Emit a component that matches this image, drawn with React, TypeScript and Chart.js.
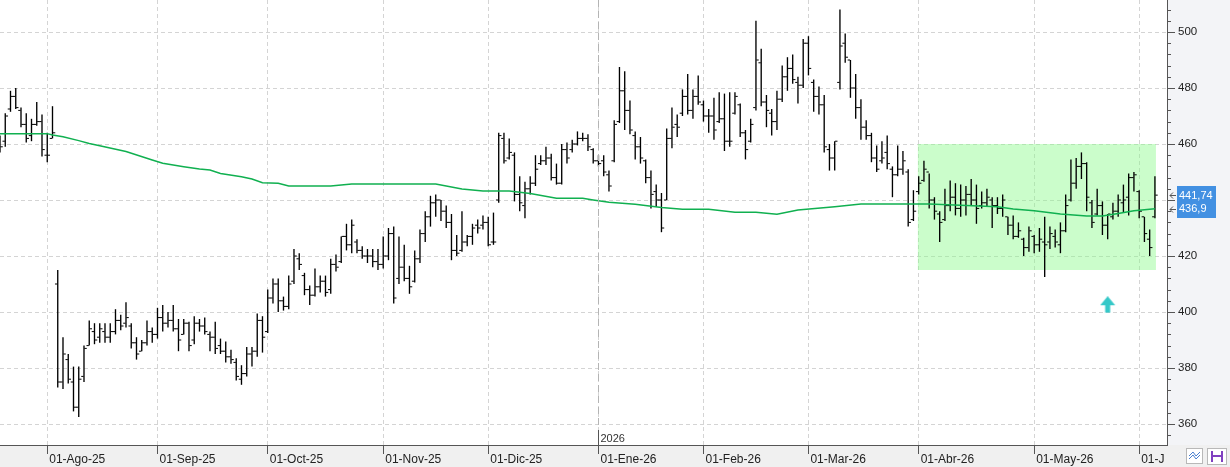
import { useEffect, useRef } from "react";
import { Chart, registerables } from "chart.js";

Chart.register(...registerables);

const FONT = '"Liberation Sans", Arial, sans-serif';

const highs: number[] = [
  463, 471, 479, 480, 473, 471, 469, 475, 470.5, 464,
  473.5, 415, 391, 385, 380.5, 380.5, 388, 397, 396, 396,
  396, 396, 401, 399, 403.5, 396, 391, 390, 397, 394.5,
  401.5, 402.5, 400, 402.5, 397.5, 397.5, 396.5, 398.5, 397.5, 398,
  393, 396.5, 390.5, 389.5, 386.5, 383.5, 381, 387.5, 387.5, 399.5,
  398.5, 408, 412, 412, 405.5, 413, 422.5, 421, 414, 409.5,
  415.5, 413, 413, 419, 420.5, 427, 431.5, 433, 426, 423.5,
  422.5, 422.5, 422.5, 427, 430, 430.5, 427, 424, 416.5, 422,
  429.5, 436, 441.5, 442, 440, 438, 435, 427.5, 436, 427.5,
  431.5, 433, 434.5, 434, 435.5, 464, 464, 462, 457, 448.5,
  446.5, 448.5, 456, 456, 459, 456.5, 453, 460, 460.5, 461.5,
  464.5, 464, 463.5, 458.5, 456, 456, 450.5, 468.5, 487.5, 486,
  475.5, 464.5, 462.5, 454.5, 450.5, 445.5, 442.5, 465.5, 473, 470.5,
  479.5, 485, 479.5, 484.5, 475.5, 472.5, 476.5, 478.5, 478, 478.5,
  478.5, 474.5, 465, 469, 504, 494, 477.5, 472.5, 479, 488,
  491, 492, 484, 497.5, 498.5, 483, 480.5, 477.5, 460, 461,
  508, 499.5, 490, 485, 476, 468.5, 464, 459.5, 461, 463,
  452, 459.5, 457.5, 451, 443.5, 448.5, 454, 449.5, 441, 436,
  444, 447, 446, 445.5, 445, 447.5, 445.5, 443, 444, 441,
  441, 442, 434, 434.5, 432, 426.5, 430.5, 427.5, 430, 434,
  430.5, 429.5, 432, 442, 454.5, 455, 457, 453.5, 440, 444,
  439.5, 435, 439, 442, 445.5, 449.5, 450, 443.5, 434, 429.5,
  448.5,
];

const lows: number[] = [
  457, 459, 471.5, 472.5, 466, 460.5, 461, 466.5, 455.5, 453.5,
  462, 373, 372.5, 374.5, 364.5, 362.5, 375, 388, 388.5, 389,
  389, 389, 392, 393.5, 394.5, 387, 383, 386, 388, 389,
  390.5, 393, 394.5, 393, 386, 392, 386, 388.5, 393, 392,
  386, 385, 385, 382, 381.5, 375.5, 374, 377, 380.5, 384,
  385.5, 392.5, 403, 400, 400.5, 401, 410, 415, 406, 402.5,
  405.5, 407, 405.5, 406.5, 414.5, 417.5, 422, 421, 421, 419,
  417.5, 416, 415, 415.5, 418.5, 403, 410, 411, 406.5, 410.5,
  417.5, 425, 430.5, 434, 432.5, 430, 418.5, 420, 421.5, 423.5,
  424, 428, 429.5, 423.5, 424, 439, 453, 454.5, 439.5, 436,
  433.5, 442, 445, 452.5, 452.5, 447, 445.5, 445.5, 453, 457,
  459.5, 461, 457.5, 453, 452, 448.5, 443, 453.5, 467.5, 465,
  463.5, 454.5, 453, 446, 437, 437.5, 428.5, 440, 458.5, 462.5,
  470, 470.5, 469, 474, 468, 464, 461.5, 467.5, 457.5, 459,
  470.5, 462.5, 454.5, 460.5, 472, 473.5, 466, 463, 465, 475,
  479, 481.5, 474.5, 480, 484.5, 471.5, 470.5, 457, 450.5, 450.5,
  479.5, 489, 476.5, 469, 461.5, 461.5, 453.5, 450, 453, 451,
  441, 448.5, 449, 430.5, 432.5, 442, 446.5, 437, 433, 425,
  432.5, 436, 434.5, 434, 434.5, 438, 431.5, 437, 437.5, 430,
  435, 434, 427.5, 426, 426.5, 420, 421.5, 421, 421.5, 412.5,
  422.5, 423, 421, 428.5, 439.5, 444, 447.5, 436, 430, 434.5,
  427.5, 426, 433, 434, 435.5, 434.5, 443, 433.5, 425, 420,
  433.5,
];

const opens: number[] = [
  457.5, 461, 472.5, 477, 472, 467, 463, 467, 468, 456,
  462, 410, 375, 383, 375, 366, 377, 388, 393, 391,
  393, 391, 393, 397, 396, 395, 389, 386, 389, 393,
  392, 398, 396, 397, 394, 392, 396, 390, 396, 395,
  392, 391, 388, 386, 384, 382, 376, 378, 385, 386,
  397, 393, 405, 410, 404, 402, 411, 419, 413, 408,
  406, 409, 411, 408, 417, 418, 427, 424, 425, 422,
  420, 420, 418, 417, 420, 428, 412, 416, 412, 411,
  419, 428, 434, 439, 440, 436, 432, 422, 422, 425,
  427, 431, 431, 432, 425, 440, 462, 455, 456, 442,
  438, 444, 446, 453, 454, 455, 448, 446, 458, 458,
  460, 462, 462, 458, 454, 454, 449, 454, 468, 479,
  472, 463, 459, 454, 448, 443, 440, 440, 462, 467,
  471, 477, 472, 477, 474, 470, 470, 468, 469, 461,
  471, 474, 464, 461, 473, 489, 475, 471, 468, 476,
  484, 487, 482, 481, 496, 482, 477, 474, 458, 455,
  482, 496, 490, 480, 473, 466, 463, 455, 454, 457,
  451, 449, 451, 450, 433, 443, 447, 450, 440, 435,
  433, 438, 441, 437, 440, 442, 440, 438, 439, 440,
  438, 437, 434, 431, 427, 426, 423, 427, 424, 425,
  425, 427, 424, 429, 440, 446, 452, 453, 439, 435,
  438, 431, 434, 436, 439, 441, 448, 443, 434, 426,
  434,
];

const closes: number[] = [
  459, 470, 477, 473, 467, 462, 467, 468, 458, 456,
  464, 375, 385, 376, 366, 376, 387, 394, 390, 394,
  391, 393, 397, 395, 398, 389, 385, 389, 393, 392,
  398, 396, 397, 394, 390, 396, 388, 396, 395, 393,
  391, 387, 386, 384, 383, 377, 378, 385, 386, 397,
  391, 405, 410, 404, 402, 410, 420, 417, 408, 406,
  409, 411, 407, 417, 416, 427, 424, 431, 422, 420,
  420, 418, 417, 420, 428, 405, 416, 412, 409, 419,
  428, 434, 439, 440, 436, 432, 422, 421, 425, 427,
  430, 430, 432, 424, 425, 463, 454, 457, 442, 439,
  444, 446, 451, 454, 455, 448, 446, 458, 455, 460,
  462, 462, 459, 454, 453, 450, 445, 467, 479, 472,
  465, 459, 455, 448, 442, 440, 430, 462, 466, 466,
  477, 472, 477, 475, 470, 470, 465, 469, 461, 461,
  477, 464, 458, 467, 490, 475, 472, 468, 476, 484,
  487, 483, 481, 496, 487, 477, 474, 459, 455, 461,
  495, 491, 480, 473, 466, 463, 455, 451, 455, 453,
  449, 451, 454, 432, 436, 446, 451, 440, 436, 432,
  438, 441, 437, 440, 442, 440, 437, 439, 441, 438,
  437, 440, 431, 427, 429, 423, 429, 424, 426, 424,
  428, 425, 429, 438, 446, 452, 453, 441, 432, 438,
  431, 435, 436, 440, 440, 448, 449, 436, 428, 423,
  441.74,
];

// 200-session moving average, read at these bar indices
const maIdx: number[] = [
  0, 9, 10, 12, 15, 17, 19, 24, 29, 31, 35, 38, 40, 42, 46, 48, 50, 53, 55, 63,
  67, 83, 88, 92, 97, 101, 106, 111, 113, 116, 121, 126, 130, 135, 140, 144, 148, 152, 159, 164,
  177, 190, 193, 197, 202, 207, 210, 213, 216, 220,
];
const maVal: number[] = [
  463.7, 463.7, 463.2, 462.6, 461.2, 460.2, 459.4, 457.3, 454.3, 453.1, 451.9, 451.1, 450.7, 449.5, 448.3, 447.5, 446.2, 446, 445, 445,
  445.7, 445.7, 443.9, 443.2, 443.2, 442.3, 440.6, 440.6, 440, 439.2, 438.5, 437.3, 436.7, 436.7, 435.6, 435.6, 434.9, 436.4, 437.6, 438.6,
  438.6, 437.6, 436.8, 436.2, 435, 434.3, 434.3, 435.2, 436.2, 436.9,
];

const monthTickIdx: number[] = [9, 30, 51, 73, 93, 114, 134, 154, 175, 197, 217];
const monthLabels: string[] = [
  "01-Ago-25", "01-Sep-25", "01-Oct-25", "01-Nov-25", "01-Dic-25",
  "01-Ene-26", "01-Feb-26", "01-Mar-26", "01-Abr-26", "01-May-26", "01-J",
];
const yearIdx = 114;
const yearLabel = "2026";

const yTicks: number[] = [360, 380, 400, 420, 440, 460, 480, 500];

const zoneStart = 174.8;
const zoneEnd = 220.2;
const zoneLow = 415;
const zoneHigh = 460;

const signalIdx = 211;
const signalPrice = 402.6;

const lastClose = 441.74;
const lastCloseLabel = "441,74";
const maLast = 436.9;
const maLastLabel = "436,9";

function makeArrowImage(): HTMLCanvasElement {
  const c = document.createElement("canvas");
  c.width = 16;
  c.height = 17;
  const g = c.getContext("2d")!;
  g.fillStyle = "#35c8c8";
  g.beginPath();
  g.moveTo(8, 0);
  g.lineTo(15.5, 9);
  g.lineTo(10.5, 9);
  g.lineTo(10.5, 16.5);
  g.lineTo(5.5, 16.5);
  g.lineTo(5.5, 9);
  g.lineTo(0.5, 9);
  g.closePath();
  g.fill();
  return c;
}

const decor = {
  id: "decor",
  beforeDraw(chart: any) {
    const { ctx, chartArea: a, width, height } = chart;
    ctx.save();
    ctx.fillStyle = "#ffffff";
    ctx.fillRect(0, 0, width, height);
    ctx.fillStyle = "#f0f0f0";
    ctx.fillRect(0, a.bottom, width, height - a.bottom);
    ctx.fillStyle = "#f3f4f7";
    ctx.fillRect(a.right, 0, width - a.right, a.bottom);
    ctx.restore();
  },
  afterDraw(chart: any) {
    const { ctx, chartArea: a, scales } = chart;
    const xs = scales.x;
    const ys = scales.y;
    ctx.save();
    // minor ticks on price axis
    ctx.strokeStyle = "#555";
    ctx.lineWidth = 1;
    ctx.beginPath();
    for (let v = Math.ceil(ys.min / 4) * 4; v <= ys.max; v += 4) {
      if (v % 20 === 0) continue;
      const py = Math.round(ys.getPixelForValue(v)) + 0.5;
      ctx.moveTo(a.right, py);
      ctx.lineTo(a.right + 4, py);
    }
    ctx.stroke();

    // year separator
    const yx = Math.round(xs.getPixelForValue(yearIdx)) + 0.5;
    ctx.strokeStyle = "#b4b4b4";
    ctx.setLineDash([7, 4]);
    ctx.beginPath();
    ctx.moveTo(yx, a.top);
    ctx.lineTo(yx, a.bottom - 16);
    ctx.stroke();
    ctx.setLineDash([]);
    ctx.strokeStyle = "#555";
    ctx.beginPath();
    ctx.moveTo(yx, a.bottom - 15);
    ctx.lineTo(yx, a.bottom);
    ctx.stroke();
    ctx.fillStyle = "#333";
    ctx.font = "11px " + FONT;
    ctx.textBaseline = "alphabetic";
    ctx.textAlign = "left";
    ctx.fillText(yearLabel, yx + 2, a.bottom - 3);

    // last-value box
    const p1 = ys.getPixelForValue(lastClose);
    const p2 = ys.getPixelForValue(maLast);
    const bx = a.right + 10;
    const top = Math.round(p1 - 9);
    const bot = Math.round(p2 + 9);
    ctx.fillStyle = "#4290e2";
    ctx.fillRect(bx, top, 39, bot - top);
    ctx.fillStyle = "#ffffff";
    ctx.font = "11px " + FONT;
    ctx.textBaseline = "middle";
    ctx.fillText(lastCloseLabel, bx + 2, p1 + 1);
    ctx.fillText(maLastLabel, bx + 2, p2 + 0.5);
    // pointers
    ctx.strokeStyle = "#555";
    [p1, p2].forEach((p) => {
      const py = Math.round(p) + 0.5;
      ctx.beginPath();
      ctx.moveTo(a.right + 9, py);
      ctx.lineTo(a.right + 3, py);
      ctx.moveTo(a.right + 6, py - 3);
      ctx.lineTo(a.right + 3, py);
      ctx.lineTo(a.right + 6, py + 3);
      ctx.stroke();
    });

    // small toolbar buttons
    ctx.fillStyle = "#ffffff";
    ctx.strokeStyle = "#b8b8b8";
    ctx.fillRect(1186, 448, 16, 15);
    ctx.strokeRect(1186.5, 448.5, 16, 15);
    ctx.fillRect(1207, 448, 19, 16);
    ctx.strokeRect(1207.5, 448.5, 19, 16);
    ctx.strokeStyle = "#4a7fd0";
    ctx.beginPath();
    ctx.moveTo(1189, 456);
    ctx.lineTo(1193, 452);
    ctx.lineTo(1196, 456);
    ctx.lineTo(1200, 452);
    ctx.moveTo(1189, 459);
    ctx.lineTo(1193, 455);
    ctx.lineTo(1196, 459);
    ctx.lineTo(1200, 455);
    ctx.stroke();
    ctx.fillStyle = "#8040c0";
    ctx.fillRect(1211, 451, 12, 11);
    ctx.fillStyle = "#ffffff";
    ctx.fillRect(1213, 451, 8, 4);
    ctx.fillRect(1213, 457, 8, 5);
    ctx.restore();
  },
};

export default function App() {
  const ref = useRef<HTMLCanvasElement>(null);
  useEffect(() => {
    const canvas = ref.current!;
    const idx = highs.map((_, i) => i);
    const arrowImg = makeArrowImage();
    const chart = new Chart(canvas, {
      type: "bar",
      data: {
        datasets: [
          {
            type: "line",
            label: "zone",
            data: [
              { x: zoneStart, y: zoneHigh },
              { x: zoneEnd, y: zoneHigh },
            ],
            fill: { value: zoneLow },
            backgroundColor: "rgba(140,250,140,0.45)",
            borderWidth: 0,
            pointRadius: 0,
            order: 10,
          } as any,
          {
            type: "bar",
            label: "range",
            data: idx.map((i) => ({ x: i, y: [lows[i], highs[i]] })),
            backgroundColor: "#000",
            barThickness: 1.35,
            borderWidth: 0,
            inflateAmount: 0,
            grouped: false,
            order: 3,
          } as any,
          {
            type: "line",
            label: "open",
            data: idx.map((i) => ({ x: i - 0.3, y: opens[i] })),
            showLine: false,
            pointStyle: "line",
            pointRadius: 1.2,
            pointBorderColor: "#000",
            pointBorderWidth: 1,
            order: 2,
          } as any,
          {
            type: "line",
            label: "close",
            data: idx.map((i) => ({ x: i + 0.3, y: closes[i] })),
            showLine: false,
            pointStyle: "line",
            pointRadius: 1.2,
            pointBorderColor: "#000",
            pointBorderWidth: 1,
            order: 2,
          } as any,
          {
            type: "line",
            label: "MA",
            data: maIdx.map((x, k) => ({ x, y: maVal[k] })),
            borderColor: "#10b050",
            borderWidth: 1.5,
            pointRadius: 0,
            tension: 0,
            order: 1,
          } as any,
          {
            type: "line",
            label: "signal",
            data: [{ x: signalIdx, y: signalPrice }],
            showLine: false,
            pointStyle: arrowImg,
            pointRadius: 8,
            order: 0,
          } as any,
        ],
      },
      options: {
        animation: false,
        responsive: false,
        events: [],
        layout: { padding: 0, autoPadding: false },
        plugins: { legend: { display: false }, tooltip: { enabled: false } },
        scales: {
          x: {
            type: "linear",
            offset: false,
            min: 0,
            max: 222.3,
            afterBuildTicks: (s: any) => {
              s.ticks = monthTickIdx.map((v) => ({ value: v }));
            },
            afterFit: (s: any) => {
              s.height = 22;
              s.paddingLeft = 0;
              s.paddingRight = 0;
            },
            ticks: {
              autoSkip: false,
              maxRotation: 0,
              minRotation: 0,
              align: "start",
              labelOffset: 2,
              padding: -2,
              color: "#222",
              font: { family: FONT, size: 12 },
              callback: (v: any) => {
                const k = monthTickIdx.indexOf(v);
                return k >= 0 ? monthLabels[k] : "";
              },
            },
            grid: { offset: false, color: "#d4d4d4", lineWidth: 1, tickLength: 9, tickColor: "#555", tickBorderDash: [] },
            border: { color: "#555", width: 1, dash: [4, 3] },
          },
          y: {
            position: "right",
            min: 352.5,
            max: 511.43,
            afterBuildTicks: (s: any) => {
              s.ticks = yTicks.map((v) => ({ value: v }));
            },
            afterFit: (s: any) => {
              s.width = 63;
              s.paddingTop = 0;
              s.paddingBottom = 0;
            },
            ticks: {
              padding: 3,
              color: "#222",
              font: { family: FONT, size: 11.5 },
              callback: (v: any) => String(v),
            },
            grid: { color: "#d4d4d4", lineWidth: 1, tickLength: 8, tickColor: "#555", tickBorderDash: [] },
            border: { color: "#555", width: 1, dash: [4, 3] },
          },
        } as any,
      },
      plugins: [decor],
    });
    return () => chart.destroy();
  }, []);
  return (
    <div style={{ position: "absolute", left: 0, top: 0, width: 1230, height: 467 }}>
      <canvas ref={ref} width={1230} height={467} style={{ display: "block" }} />
    </div>
  );
}
